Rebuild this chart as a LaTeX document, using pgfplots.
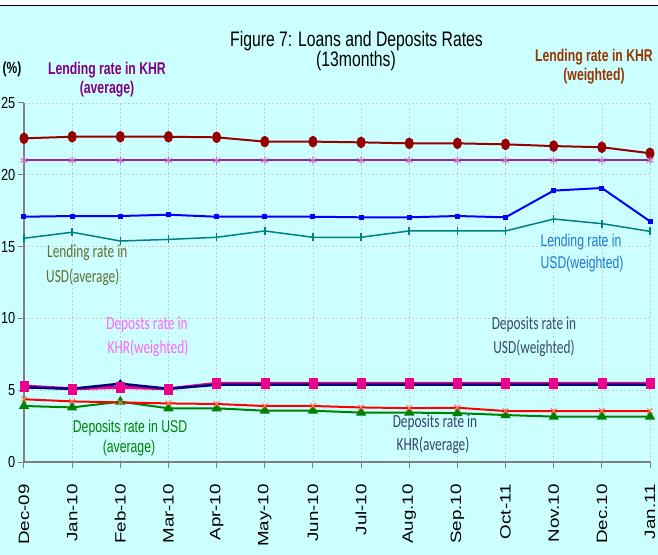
\documentclass[border=0pt]{standalone}
\usepackage{pgfplots}
\pgfplotsset{compat=1.18}
\usepackage{pgfplotstable}
\usepackage{graphicx}
\usepackage{fontspec}
\setmainfont{Liberation Sans}
\newfontfamily\calfont{Carlito}

\definecolor{bg}{RGB}{204,255,255}
\definecolor{dkred}{RGB}{150,0,0}
\definecolor{purp}{RGB}{150,40,150}
\definecolor{lpurp}{RGB}{205,110,205}
\definecolor{teal2}{RGB}{0,128,128}
\definecolor{navy2}{RGB}{0,0,128}
\definecolor{salmon2}{RGB}{255,120,100}
\definecolor{green2}{RGB}{0,128,0}
\definecolor{tpurp}{RGB}{128,0,128}
\definecolor{tbrown}{RGB}{153,51,0}
\definecolor{tolive}{RGB}{100,110,50}
\definecolor{tblue}{RGB}{30,120,210}
\definecolor{tpink}{RGB}{255,102,255}
\definecolor{tnavy}{RGB}{60,75,100}
\definecolor{tslate}{RGB}{50,70,110}

\newcommand{\nx}[1]{\scalebox{0.72}[1]{#1}}
\newcommand{\sx}[1]{\scalebox{1.25}[1]{#1}}

\pgfplotstableread{
x khrw khra usdw usda dkw duw dka dua
0 22.54 21.0 17.08 15.58 5.29 5.20 4.37 3.90
1 22.65 21.0 17.13 16.00 5.10 5.10 4.22 3.80
2 22.65 21.0 17.13 15.39 5.20 5.45 4.15 4.20
3 22.65 21.0 17.22 15.50 5.10 5.10 4.08 3.74
4 22.61 21.0 17.08 15.65 5.48 5.38 4.04 3.74
5 22.31 21.0 17.08 16.09 5.48 5.38 3.90 3.57
6 22.31 21.0 17.08 15.65 5.48 5.38 3.90 3.57
7 22.26 21.0 17.04 15.65 5.48 5.38 3.80 3.44
8 22.19 21.0 17.04 16.09 5.48 5.38 3.75 3.44
9 22.19 21.0 17.13 16.09 5.48 5.38 3.78 3.40
10 22.12 21.0 17.04 16.09 5.48 5.38 3.55 3.27
11 22.00 21.0 18.90 16.92 5.48 5.38 3.55 3.16
12 21.92 21.0 19.08 16.60 5.48 5.38 3.55 3.16
13 21.50 21.0 16.76 16.06 5.48 5.38 3.55 3.16
}\data

\begin{document}
\begin{tikzpicture}
\path[use as bounding box] (-24bp,-93bp) rectangle (634bp,462bp);
\fill[bg] (-24bp,-93bp) rectangle (634bp,462bp);
\fill[white] (-24bp,457bp) rectangle (634bp,462bp);
\draw[black,line width=1.5bp] (-24bp,456.5bp) -- (634bp,456.5bp);
\begin{axis}[
  at={(0,0)}, anchor=south west,
  scale only axis, width=626bp, height=359bp,
  xmin=0, xmax=13, ymin=0, ymax=25,
  xtick={0,...,13}, ytick={0,5,...,25},
  xticklabels={\sx{Dec-09},\sx{Jan-10},\sx{Feb-10},\sx{Mar-10},\sx{Apr-10},\sx{May-10},\sx{Jun-10},\sx{Jul-10},\sx{Aug.10},\sx{Sep.10},\sx{Oct-11},\sx{Nov.10},\sx{Dec.10},\sx{Jan.11}},
  axis x line*=bottom, axis y line*=left,
  axis line style={gray, line width=1.5bp, -},
  tick align=outside, major tick length=6bp,
  tick style={gray, line width=1bp},
  grid=major,
  major grid style={dash pattern=on 2bp off 2bp, color=gray!40, line width=0.6bp},
  xticklabel style={rotate=90, anchor=east, inner sep=0pt, font=\fontsize{15bp}{15bp}\selectfont},
  xticklabel shift=16bp,
  yticklabel={\scalebox{0.8}[1]{\pgfmathprintnumber{\tick}}},
  yticklabel style={anchor=east, inner sep=0pt, font=\fontsize{16bp}{16bp}\selectfont},
  yticklabel shift=2.5bp,
  /pgf/number format/assume math mode=true,
  clip=false,
]
\addplot[color=dkred, line width=2bp, mark=*, mark size=3.5bp, mark options={yscale=1.35}] table[x=x,y=khrw]{\data};
\addplot[color=purp, line width=2bp, mark=asterisk, mark size=4bp, mark options={color=lpurp, line width=1bp}] table[x=x,y=khra]{\data};
\addplot[color=blue, line width=2bp, mark=square*, mark size=1.5bp] table[x=x,y=usdw]{\data};
\addplot[color=teal2, line width=1.5bp, mark=|, mark size=4bp] table[x=x,y=usda]{\data};
\addplot[color=green2, line width=2bp, mark=triangle*, mark size=4bp] table[x=x,y=dua]{\data};
\addplot[color=red, line width=2bp, mark=x, mark size=4bp, mark options={color=salmon2, line width=1bp}] table[x=x,y=dka]{\data};
\addplot[color=magenta, line width=3bp, mark=none] table[x=x,y=dkw]{\data};
\addplot[color=navy2, line width=2.5bp, mark=diamond*, mark size=2.5bp] table[x=x,y=duw]{\data};
\addplot[color=magenta, only marks, mark=square*, mark size=4bp, mark options={yscale=1.25}] table[x=x,y=dkw]{\data};
\end{axis}

% title and labels
\node[anchor=base] at (332.5bp,415bp) {\fontsize{21bp}{21bp}\selectfont\scalebox{0.75}[1]{Figure 7: Loans and Deposits Rates}};
\node[anchor=base] at (332bp,395bp) {\fontsize{21bp}{21bp}\selectfont\scalebox{0.75}[1]{(13months)}};
\node[anchor=base] at (-12bp,388bp) {\fontsize{16bp}{16bp}\selectfont\bfseries\scalebox{0.75}[1]{(\%)}};

\node[anchor=base, text=tpurp] at (83bp,387bp) {\fontsize{17bp}{17bp}\selectfont\bfseries\nx{Lending rate in KHR}};
\node[anchor=base, text=tpurp] at (83bp,368bp) {\fontsize{17bp}{17bp}\selectfont\bfseries\nx{(average)}};

\node[anchor=base, text=tbrown] at (570bp,400bp) {\fontsize{17bp}{17bp}\selectfont\bfseries\nx{Lending rate in KHR}};
\node[anchor=base, text=tbrown] at (570bp,381bp) {\fontsize{17bp}{17bp}\selectfont\bfseries\nx{(weighted)}};

\node[anchor=base west, inner sep=0pt, text=tolive] at (23bp,204bp) {\calfont\fontsize{18.5bp}{18.5bp}\selectfont\nx{Lending rate in}};
\node[anchor=base west, inner sep=0pt, text=tolive] at (22bp,179bp) {\calfont\fontsize{18.5bp}{18.5bp}\selectfont\nx{USD(average)}};

\node[anchor=base, text=tblue] at (557bp,215bp) {\fontsize{17bp}{17bp}\selectfont\nx{Lending rate in}};
\node[anchor=base, text=tblue] at (558bp,193bp) {\fontsize{17bp}{17bp}\selectfont\nx{USD(weighted)}};

\node[anchor=base, text=tpink] at (123bp,132bp) {\calfont\fontsize{18.5bp}{18.5bp}\selectfont\nx{Deposts rate in}};
\node[anchor=base, text=tpink] at (124bp,108bp) {\calfont\fontsize{18.5bp}{18.5bp}\selectfont\nx{KHR(weighted)}};

\node[anchor=base, text=tnavy] at (510bp,132bp) {\calfont\fontsize{18.5bp}{18.5bp}\selectfont\nx{Deposits rate in}};
\node[anchor=base, text=tnavy] at (510bp,108bp) {\calfont\fontsize{18.5bp}{18.5bp}\selectfont\nx{USD(weighted)}};

\node[anchor=base, text=green2] at (106bp,30bp) {\fontsize{17bp}{17bp}\selectfont\nx{Deposits rate in USD}};
\node[anchor=base, text=green2] at (105bp,10bp) {\fontsize{17bp}{17bp}\selectfont\nx{(average)}};

\node[anchor=base, text=tslate] at (411bp,35bp) {\calfont\fontsize{18.5bp}{18.5bp}\selectfont\nx{Deposits rate in}};
\node[anchor=base, text=tslate] at (409bp,12bp) {\calfont\fontsize{18.5bp}{18.5bp}\selectfont\nx{KHR(average)}};
\end{tikzpicture}
\end{document}
